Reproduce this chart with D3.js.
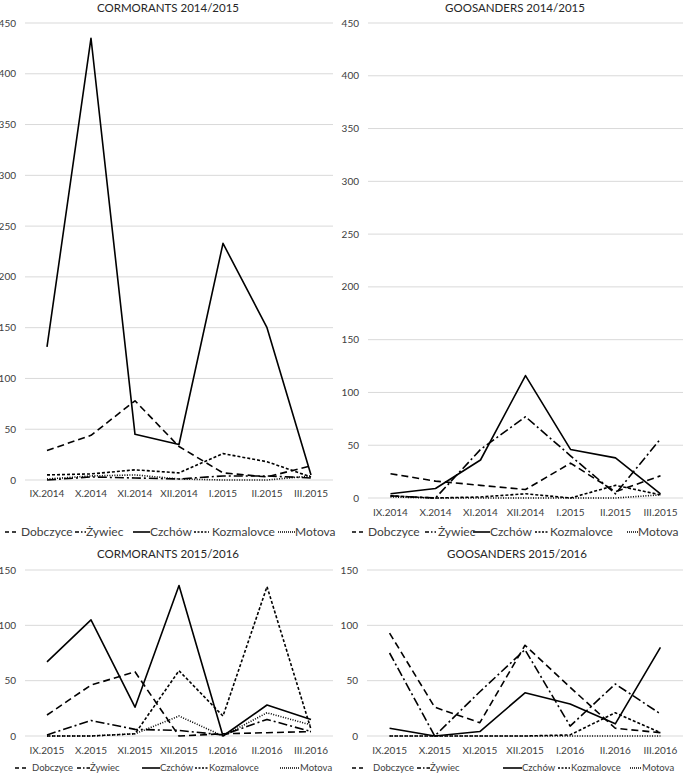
<!DOCTYPE html>
<html>
<head>
<meta charset="utf-8">
<script src="https://cdn.jsdelivr.net/npm/d3@7"></script>
<style>
  body { margin: 0; background: #fff; }
  svg { display: block; font-family: Lato, "Open Sans", sans-serif; }
</style>
</head>
<body>
<svg id="chart" width="685" height="773"></svg>
<script>
// data
const sites = ["Dobczyce", "Żywiec", "Czchów", "Kozmalovce", "Motova"];
const months1415 = ["IX.2014", "X.2014", "XI.2014", "XII.2014", "I.2015", "II.2015", "III.2015"];
const months1516 = ["IX.2015", "X.2015", "XI.2015", "XII.2015", "I.2016", "II.2016", "III.2016"];

// one row per site, in the order of `sites`
const cormorants1415 = [
  [29, 44, 78, 33, 7, 3, 14],
  [0, 3, 2, 1, 4, 4, 2],
  [131, 435, 45, 35, 233, 150, 5],
  [5, 6, 10, 7, 26, 18, 3],
  [1, 4, 5, 1, 0, 0, 4]
];
const goosanders1415 = [
  [23, 16, 12, 8, 33, 6, 21],
  [2, 0, 46, 77, 40, 4, 56],
  [4, 9, 36, 116, 46, 38, 4],
  [2, 0, 1, 4, 0, 12, 3],
  [1, 0, 0, 0, 0, 0, 3]
];
const cormorants1516 = [
  [19, 46, 58, 0, 2, 3, 4],
  [1, 14, 6, 5, 1, 15, 4],
  [67, 105, 26, 136, 0, 28, 15],
  [0, 0, 2, 59, 18, 135, 6],
  [0, 0, 2, 18, 0, 21, 10]
];
const goosanders1516 = [
  [93, 26, 12, 82, 44, 7, 3],
  [75, 0, 40, 78, 9, 47, 20],
  [7, 0, 4, 39, 29, 11, 80],
  [0, 0, 0, 0, 1, 21, 3],
  [0, 0, 0, 0, 0, 0, 0]
];

// line styles: plot lines and the short legend samples
const dashes = ["7,4", "9,3,2,3", null, "3,2", "1,1.5"];
const legendDashes = ["4,3", "4,2,1.5,2", null, "2,1.5", "1,1"];

const panels = [
  { title: "CORMORANTS 2014/2015", months: months1415, series: cormorants1415, max: 450,
    x: [25, 333], y: [480, 23], tickY: 493, titleX: 168, titleY: 8, legendY: 532, legendFont: 12,
    legend: [[5, 17, 21], [75, 86, 86], [133, 150, 150], [194, 209, 212], [278, 295, 295]] },
  { title: "GOOSANDERS 2014/2015", months: months1415, series: goosanders1415, max: 450,
    x: [368, 683], y: [498, 23], tickY: 512, titleX: 515, titleY: 8, legendY: 532, legendFont: 12,
    legend: [[352, 363, 368], [425, 436, 438], [473, 490, 490], [535, 548, 550], [627, 638, 638]] },
  { title: "CORMORANTS  2015/2016", months: months1516, series: cormorants1516, max: 150,
    x: [25, 333], y: [736, 570], tickY: 750, titleX: 168, titleY: 554, legendY: 768, legendFont: 9.5,
    legend: [[15, 27, 32], [77, 90, 90], [142, 160, 160], [195, 208, 209], [280, 300, 300]] },
  { title: "GOOSANDERS 2015/2016", months: months1516, series: goosanders1516, max: 150,
    x: [367, 683], y: [736, 570], tickY: 750, titleX: 517, titleY: 554, legendY: 768, legendFont: 9.5,
    legend: [[352, 364, 373], [417, 430, 430], [503, 522, 522], [558, 570, 571], [630, 642, 642]] }
];

const svg = d3.select("#chart");

panels.forEach(p => {
  const g = svg.append("g");
  const x = d3.scalePoint().domain(p.months).range(p.x).padding(0.5);
  const y = d3.scaleLinear().domain([0, p.max]).range(p.y);
  const ticks = d3.range(0, p.max + 1, 50);

  // grid
  g.selectAll(".grid")
    .data(ticks)
    .join("line")
    .attr("x1", p.x[0]).attr("x2", p.x[1])
    .attr("y1", d => y(d)).attr("y2", d => y(d))
    .attr("stroke", "#d9d9d9").attr("stroke-width", 1);

  // y labels
  g.selectAll(".ylab")
    .data(ticks)
    .join("text")
    .attr("x", p.x[0] - 9)
    .attr("y", d => y(d))
    .attr("dy", "0.35em")
    .attr("text-anchor", "end")
    .attr("font-size", 10)
    .attr("fill", "#404040")
    .text(d => d);

  // x labels
  g.selectAll(".xlab")
    .data(p.months)
    .join("text")
    .attr("x", d => x(d))
    .attr("y", p.tickY)
    .attr("dy", "0.35em")
    .attr("text-anchor", "middle")
    .attr("font-size", 10)
    .attr("fill", "#404040")
    .text(d => d);

  // title
  g.append("text")
    .attr("x", p.titleX).attr("y", p.titleY).attr("dy", "0.35em")
    .attr("text-anchor", "middle")
    .attr("font-size", 11.5)
    .attr("fill", "#262626")
    .text(p.title);

  // lines
  const line = d3.line().x((d, i) => x(p.months[i])).y(d => y(d));
  g.selectAll(".series")
    .data(p.series)
    .join("path")
    .attr("d", d => line(d))
    .attr("fill", "none")
    .attr("stroke", "#000")
    .attr("stroke-width", 1.6)
    .attr("stroke-linejoin", "round")
    .attr("stroke-dasharray", (d, i) => dashes[i]);

  // legend
  const items = g.selectAll(".leg")
    .data(sites)
    .join("g");
  items.append("line")
    .attr("x1", (d, i) => p.legend[i][0])
    .attr("x2", (d, i) => p.legend[i][1])
    .attr("y1", p.legendY).attr("y2", p.legendY)
    .attr("stroke", "#000")
    .attr("stroke-width", 1.6)
    .attr("stroke-dasharray", (d, i) => legendDashes[i]);
  items.append("text")
    .attr("x", (d, i) => p.legend[i][2])
    .attr("y", p.legendY)
    .attr("dy", "0.35em")
    .attr("font-size", p.legendFont)
    .attr("fill", "#404040")
    .text(d => d);
});
</script>
</body>
</html>
